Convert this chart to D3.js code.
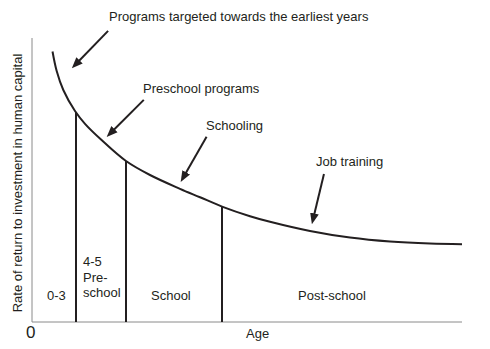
<!DOCTYPE html>
<html>
<head>
<meta charset="utf-8">
<script src="https://cdn.jsdelivr.net/npm/d3@7"></script>
<style>
  html, body { margin: 0; padding: 0; background: #fff; }
  text { font-family: "Liberation Sans", Arial, sans-serif; fill: #231f20; }
</style>
</head>
<body>
<div id="chart"></div>
<script>
// Curve: rate of return vs age (abstract units, 0-100)
const ages  = [4.77, 5.74, 7.28, 10.0, 12.33, 16.05, 21.86, 27.44, 34.42, 39.07, 44.35, 50.7, 55.35, 64.65, 73.95, 83.26, 92.56, 100];
const rates = [95.25, 88.38, 81.69, 74.3, 69.79, 64.26, 56.69, 51.76, 46.9, 43.94, 40.56, 37.25, 35.28, 32.04, 29.72, 28.31, 27.61, 27.39];

// Stage boundaries along the age axis
const dividers = [10.23, 21.86, 44.19];

// Stage labels (multi-line allowed)
const stageLabels = [["0-3"], ["4-5", "Pre-", "school"], ["School"], ["Post-school"]];

// Annotations: label + arrow from -> to (data units)
const annoLabels = ["Programs targeted towards the earliest years", "Preschool programs", "Schooling", "Job training"];
const arrowFrom = [[17.7, 102.5], [26.0, 78.2], [40.6, 65.2], [67.9, 52.1]];
const arrowTo   = [[9.3, 89.4], [17.4, 65.2], [34.6, 49.4], [65.1, 34.5]];

const width = 490, height = 349;
const plot = { left: 32, right: 462, top: 38, bottom: 322 };

const svg = d3.select('#chart')
  .append('svg')
  .attr('width', width)
  .attr('height', height);

const x = d3.scaleLinear().domain([0, 100]).range([plot.left, plot.right]);
const y = d3.scaleLinear().domain([0, 100]).range([plot.bottom, plot.top]);

//Arrow marker
svg.append('defs').append('marker')
  .attr('id', 'head')
  .attr('markerUnits', 'userSpaceOnUse')
  .attr('viewBox', '0 0 10 10')
  .attr('refX', 3).attr('refY', 5)
  .attr('markerWidth', 11).attr('markerHeight', 11)
  .attr('orient', 'auto')
  .append('path')
  .attr('d', 'M0,1 L10,5 L0,9 Z')
  .attr('fill', '#231f20');

//Axes (plain lines, no ticks)
svg.append('line')
  .attr('x1', x(0)).attr('x2', x(0))
  .attr('y1', y(0)).attr('y2', plot.top)
  .attr('stroke', '#8a8a8a').attr('stroke-width', 1);
svg.append('line')
  .attr('x1', x(0)).attr('x2', x(100))
  .attr('y1', y(0)).attr('y2', y(0))
  .attr('stroke', '#8a8a8a').attr('stroke-width', 1);

//Curve
const pts = ages.map((a, i) => [a, rates[i]]);
const line = d3.line()
  .x(d => x(d[0]))
  .y(d => y(d[1]))
  .curve(d3.curveCatmullRom.alpha(0.5));
svg.append('path')
  .datum(pts)
  .attr('fill', 'none')
  .attr('stroke', '#231f20')
  .attr('stroke-width', 2)
  .attr('d', line);

//Vertical dividers up to the curve
const rateAt = a => {
  const i = d3.bisectRight(ages, a);
  const t = (a - ages[i - 1]) / (ages[i] - ages[i - 1]);
  return rates[i - 1] + t * (rates[i] - rates[i - 1]);
};
svg.selectAll('.divider')
  .data(dividers)
  .join('line')
  .attr('class', 'divider')
  .attr('x1', d => x(d)).attr('x2', d => x(d))
  .attr('y1', y(0)).attr('y2', d => y(rateAt(d)))
  .attr('stroke', '#231f20')
  .attr('stroke-width', 2);

//Stage labels
const stagePos = [[47, 300], [83, 266], [151, 300], [298, 300]];
stageLabels.forEach((lines, i) => {
  const t = svg.append('text')
    .attr('x', stagePos[i][0])
    .attr('y', stagePos[i][1])
    .attr('font-size', 13);
  lines.forEach((s, j) => {
    t.append('tspan')
      .attr('x', stagePos[i][0])
      .attr('dy', j === 0 ? 0 : 15.5)
      .text(s);
  });
});

//Annotation arrows (shortened so the head carries the tip)
const shorten = (i, k) => {
  const x1 = x(arrowFrom[i][0]), y1 = y(arrowFrom[i][1]);
  const x2 = x(arrowTo[i][0]), y2 = y(arrowTo[i][1]);
  const len = Math.hypot(x2 - x1, y2 - y1);
  return k === 'x' ? x2 - (x2 - x1) / len * 7.5 : y2 - (y2 - y1) / len * 7.5;
};
svg.selectAll('.arrow')
  .data(arrowFrom)
  .join('line')
  .attr('class', 'arrow')
  .attr('x1', d => x(d[0])).attr('y1', d => y(d[1]))
  .attr('x2', (d, i) => shorten(i, 'x'))
  .attr('y2', (d, i) => shorten(i, 'y'))
  .attr('stroke', '#231f20')
  .attr('stroke-width', 2)
  .attr('marker-end', 'url(#head)');

//Annotation labels
const annoPos = [[109, 21], [143, 93], [206, 130], [316, 166]];
svg.selectAll('.anno')
  .data(annoLabels)
  .join('text')
  .attr('class', 'anno')
  .attr('x', (d, i) => annoPos[i][0])
  .attr('y', (d, i) => annoPos[i][1])
  .attr('font-size', 13)
  .text(d => d);

//Axis labels
svg.append('text')
  .attr('x', 26).attr('y', 338)
  .attr('font-size', 17)
  .text('0');
svg.append('text')
  .attr('x', 246).attr('y', 338)
  .attr('font-size', 13)
  .text('Age');
svg.append('text')
  .attr('transform', 'translate(22, 183) rotate(-90)')
  .attr('text-anchor', 'middle')
  .attr('font-size', 13)
  .text('Rate of return to investment in human capital');
</script>
</body>
</html>
